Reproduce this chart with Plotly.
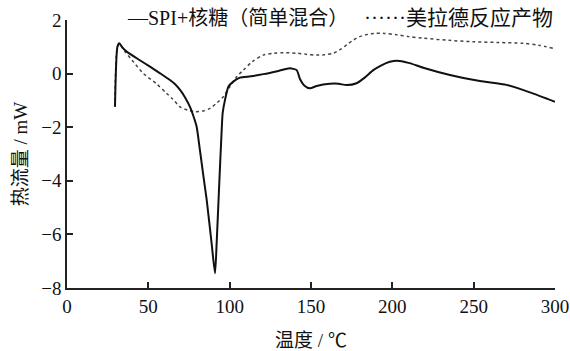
import plotly.graph_objects as go

# Series 1: SPI+核糖(简单混合)
temp_mix = [29.5, 31, 32.2, 34, 36.7, 45, 51, 57, 63.3, 66.5, 69.5, 72.5, 75.6, 77.8, 79.7,
            81.7, 83.8, 85.9, 88.9, 91, 92, 93.6, 95, 95.7, 97.1, 99.2, 102.2, 106.3, 113,
            120.7, 130, 137, 141.2, 143.2, 146, 149.4, 153.5, 161.6, 167, 171.9, 178, 183,
            188.3, 193, 198.5, 203, 210, 219, 235.4, 253.8, 270.2, 284.6, 300]
heat_mix = [-1.24, 1.0, 1.13, 0.98, 0.82, 0.49, 0.26, 0.02, -0.24, -0.4, -0.61, -0.88, -1.24, -1.6, -1.98,
            -2.85, -3.8, -4.72, -6.33, -7.45, -6.33, -4.1, -2.23, -1.47, -0.99, -0.49, -0.3, -0.15, -0.1,
            -0.02, 0.1, 0.2, 0.13, -0.2, -0.45, -0.55, -0.46, -0.38, -0.38, -0.43, -0.36, -0.15,
            0.13, 0.3, 0.44, 0.48, 0.4, 0.22, -0.05, -0.28, -0.42, -0.7, -1.05]

# Series 2: 美拉德反应产物
temp_mrp = [29.5, 31, 32.2, 35.6, 40, 46.9, 55, 61.3, 65, 69.5, 74, 78.7, 83, 87.9, 92, 96.1,
            100, 104.3, 108.4, 114, 120.7, 127, 133, 141.2, 147, 153.5, 158, 163.7, 168, 171.9,
            176, 180, 188.3, 195, 202.6, 210, 219, 235, 249.7, 265, 280.4, 290, 298.9]
heat_mrp = [-1.24, 1.0, 1.1, 0.82, 0.5, 0.01, -0.38, -0.74, -0.95, -1.24, -1.36, -1.42, -1.4, -1.3, -1.1, -0.86,
            -0.5, -0.12, 0.13, 0.45, 0.69, 0.76, 0.78, 0.76, 0.72, 0.69, 0.7, 0.76, 0.9, 1.07,
            1.25, 1.38, 1.5, 1.5, 1.45, 1.38, 1.32, 1.24, 1.19, 1.16, 1.13, 1.06, 0.94]

x_ticks = [0, 50, 100, 150, 200, 250, 300]
y_ticks = [2, 0, -2, -4, -6, -8]
name_mix = "SPI+核糖（简单混合）"
name_mrp = "美拉德反应产物"

FONT = "Liberation Serif, Times New Roman, Noto Sans CJK SC, serif"

fig = go.Figure()
fig.add_trace(go.Scatter(x=temp_mrp, y=heat_mrp, mode="lines", name=name_mrp,
                         line=dict(color="#444444", width=1.5, dash="dot", shape="spline", smoothing=0.8),
                         showlegend=False))
fig.add_trace(go.Scatter(x=temp_mix, y=heat_mix, mode="lines", name=name_mix,
                         line=dict(color="#111111", width=2, shape="spline", smoothing=0.6),
                         showlegend=False))

fig.add_annotation(text="—" + name_mix, xref="paper", yref="paper", x=0.119, y=1.007,
                   xanchor="left", yanchor="middle", showarrow=False,
                   font=dict(family=FONT, size=20, color="#111111"))
fig.add_annotation(text="······" + name_mrp, xref="paper", yref="paper", x=1.0, y=1.007,
                   xanchor="right", yanchor="middle", showarrow=False,
                   font=dict(family=FONT, size=21, color="#111111"))

fig.update_layout(
    width=570, height=351,
    margin=dict(l=67, r=15, t=20, b=63, autoexpand=False),
    paper_bgcolor="white", plot_bgcolor="white",
    font=dict(family=FONT, size=19, color="#111111"),
    xaxis=dict(range=[0, 300], tickvals=x_ticks, ticks="inside", ticklen=6, tickwidth=1.5,
               tickcolor="#222", showline=True, linecolor="#222", linewidth=1.5,
               showgrid=False, zeroline=False, automargin=False,
               title=dict(text="温度 / ℃", standoff=20, font=dict(size=19))),
    yaxis=dict(range=[-8, 2], tickvals=y_ticks, ticks="inside", ticklen=6, tickwidth=1.5,
               tickcolor="#222", showline=True, linecolor="#222", linewidth=1.5,
               showgrid=False, zeroline=False, automargin=False,
               title=dict(text="热流量 / mW", standoff=9, font=dict(size=19))),
)

fig.write_html("out.html")
